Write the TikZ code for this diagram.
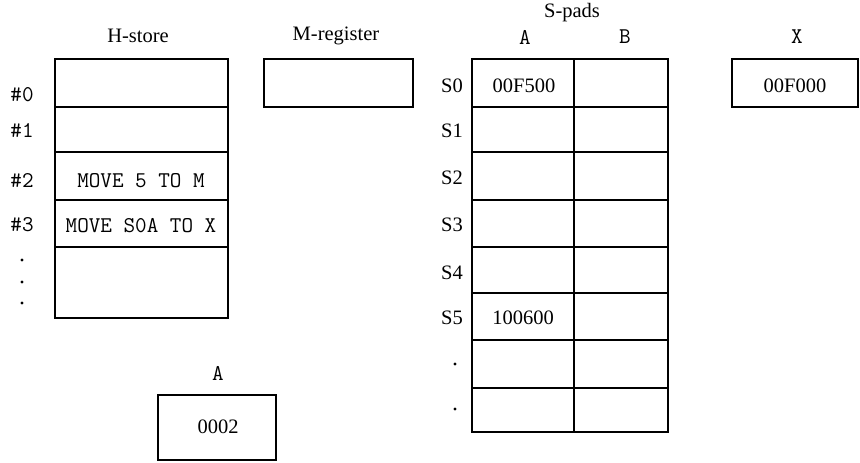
\documentclass[tikz,border=0pt]{standalone}
\usepackage{fontspec}
\setmainfont{Liberation Serif}
\begin{document}
\begin{tikzpicture}[x=1pt,y=-1pt,
  cell/.style={draw, line width=1.5pt, inner sep=0pt, outer sep=0pt},
  lab/.style={font=\fontsize{20.5}{24}\selectfont, inner sep=0pt},
  mono/.style={font=\ttfamily\fontsize{22.5}{26}\selectfont, inner sep=0pt},
  dotmark/.style={circle, fill, inner sep=0pt, minimum size=3.4pt}]
\useasboundingbox (0,0) rectangle (860,463);

% ---------- H-store ----------
\node[lab] (hlab) at (138,36) {H-store};
\node[cell, minimum width=173pt, minimum height=48pt] (h0) at (141.5,83) {};
\node[cell, minimum width=173pt, minimum height=45pt] (h1) at (141.5,129.5) {};
\node[cell, minimum width=173pt, minimum height=48pt] (h2) at (141.5,176) {};
\node[mono] (h2t) at (141,181) {MOVE 5 TO M};
\node[cell, minimum width=173pt, minimum height=47pt] (h3) at (141.5,223.5) {};
\node[mono] (h3t) at (141,226) {MOVE S0A TO X};
\node[cell, minimum width=173pt, minimum height=71pt] (h4) at (141.5,282.5) {};

\node[mono] (n0) at (22,95) {\#0};
\node[mono] (n1) at (22,130) {\#1};
\node[mono] (n2) at (22,180) {\#2};
\node[mono] (n3) at (22,225) {\#3};
\node[dotmark] (d1) at (22,260) {};
\node[dotmark] (d2) at (22,282) {};
\node[dotmark] (d3) at (22,303) {};

% ---------- M-register ----------
\node[lab] (mlab) at (336,36) {M-register};
\node[cell, minimum width=149pt, minimum height=48pt] (mreg) at (338.5,83) {};

% ---------- S-pads ----------
\node[lab] (slab) at (572,13) {S-pads};
\node[mono] (salab) at (525,37) {A};
\node[mono] (sblab) at (625,37) {B};

\node[cell, minimum width=102pt, minimum height=48pt] (sa0) at (523,83) {};
\node[cell, minimum width=94pt,  minimum height=48pt] (sb0) at (621,83) {};
\node[cell, minimum width=102pt, minimum height=45pt] (sa1) at (523,129.5) {};
\node[cell, minimum width=94pt,  minimum height=45pt] (sb1) at (621,129.5) {};
\node[cell, minimum width=102pt, minimum height=48pt] (sa2) at (523,176) {};
\node[cell, minimum width=94pt,  minimum height=48pt] (sb2) at (621,176) {};
\node[cell, minimum width=102pt, minimum height=47pt] (sa3) at (523,223.5) {};
\node[cell, minimum width=94pt,  minimum height=47pt] (sb3) at (621,223.5) {};
\node[cell, minimum width=102pt, minimum height=46pt] (sa4) at (523,270) {};
\node[cell, minimum width=94pt,  minimum height=46pt] (sb4) at (621,270) {};
\node[cell, minimum width=102pt, minimum height=47pt] (sa5) at (523,316.5) {};
\node[cell, minimum width=94pt,  minimum height=47pt] (sb5) at (621,316.5) {};
\node[cell, minimum width=102pt, minimum height=48pt] (sa6) at (523,364) {};
\node[cell, minimum width=94pt,  minimum height=48pt] (sb6) at (621,364) {};
\node[cell, minimum width=102pt, minimum height=44pt] (sa7) at (523,410) {};
\node[cell, minimum width=94pt,  minimum height=44pt] (sb7) at (621,410) {};

\node[lab] (sa0t) at (524,86) {00F500};
\node[lab] (sa5t) at (523,318) {100600};

\node[lab] (s0) at (452,86) {S0};
\node[lab] (s1) at (452,131) {S1};
\node[lab] (s2) at (452,178) {S2};
\node[lab] (s3) at (452,225) {S3};
\node[lab] (s4) at (452,273) {S4};
\node[lab] (s5) at (452,318) {S5};
\node[dotmark] (sd1) at (455,364) {};
\node[dotmark] (sd2) at (455,409) {};

% ---------- X ----------
\node[mono] (xlab) at (797,37) {X};
\node[cell, minimum width=126pt, minimum height=48pt] (xreg) at (795,83) {};
\node[lab] (xt) at (795,86) {00F000};

% ---------- A ----------
\node[mono] (alab) at (218,373) {A};
\node[cell, minimum width=118pt, minimum height=65pt] (areg) at (217,427.5) {};
\node[lab] (at) at (218,427) {0002};
\end{tikzpicture}
\end{document}
